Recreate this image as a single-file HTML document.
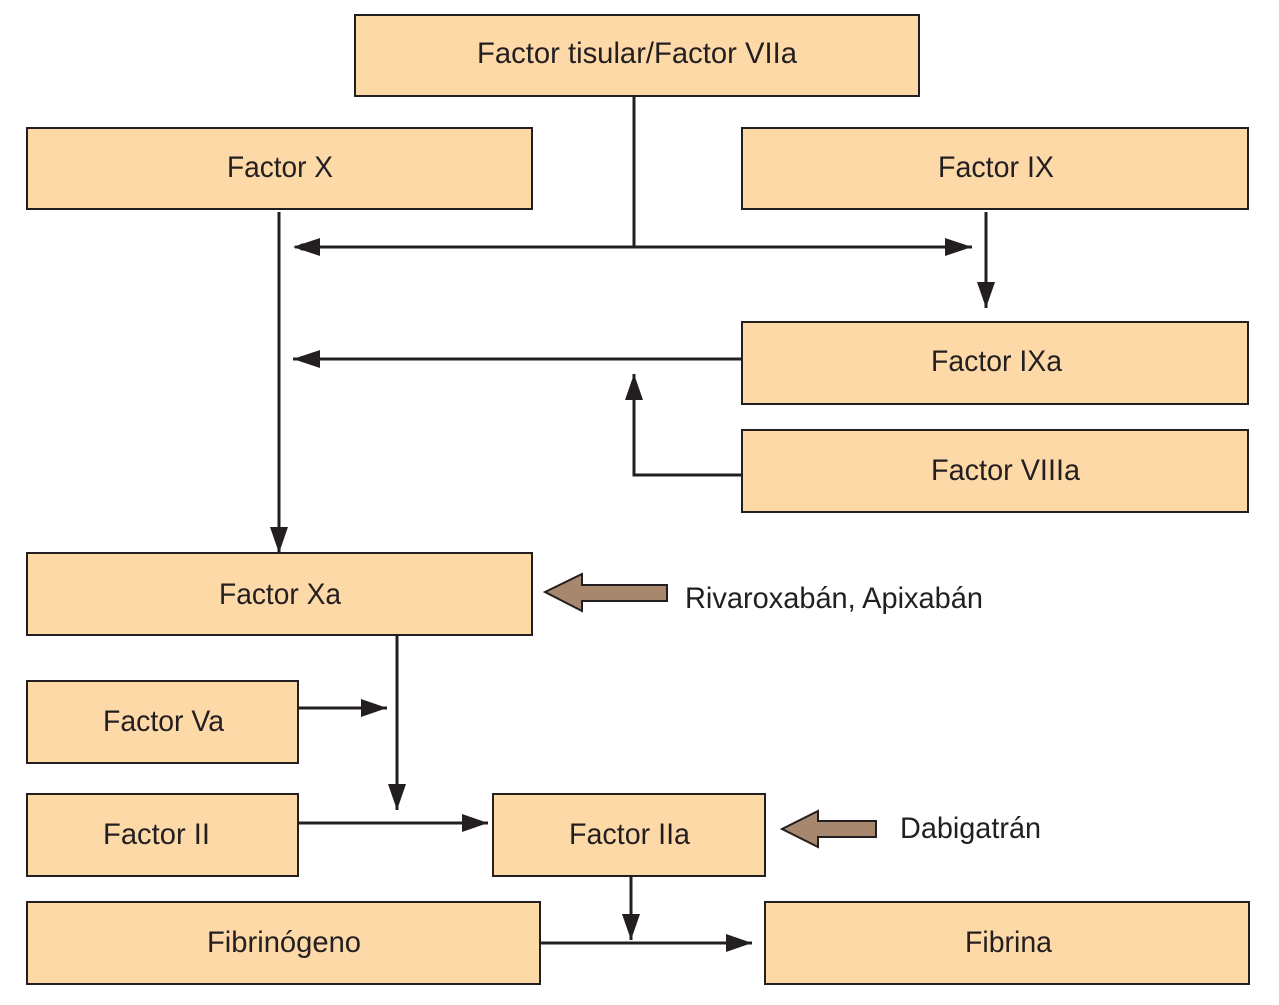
<!DOCTYPE html>
<html><head><meta charset="utf-8"><style>html,body{margin:0;padding:0;background:#fff}</style></head>
<body>
<svg width="1279" height="1000" viewBox="0 0 1279 1000" xmlns="http://www.w3.org/2000/svg">
<defs>
<marker id="a" viewBox="0 0 10 10" refX="10" refY="5" markerWidth="8" markerHeight="8" markerUnits="userSpaceOnUse" orient="auto">
<path d="M0,0 L10,5 L0,10 z" fill="#231f20"/></marker>
</defs>
<g fill="#fdd9a8" stroke="#231f20" stroke-width="2">
<rect x="355" y="15" width="564" height="81"/>
<rect x="27" y="128" width="505" height="81"/>
<rect x="742" y="128" width="506" height="81"/>
<rect x="742" y="322" width="506" height="82"/>
<rect x="742" y="430" width="506" height="82"/>
<rect x="27" y="553" width="505" height="82"/>
<rect x="27" y="681" width="271" height="82"/>
<rect x="27" y="794" width="271" height="82"/>
<rect x="493" y="794" width="272" height="82"/>
<rect x="27" y="902" width="513" height="82"/>
<rect x="765" y="902" width="484" height="82"/>
</g>
<g stroke="#231f20" stroke-width="3" fill="none">
<line x1="634" y1="96" x2="634" y2="247"/>
<line x1="634" y1="247" x2="295" y2="247" style="marker-end:url(#a)"/>
<path d="M634,247 L293,247" stroke="none"/>
<line x1="634" y1="247" x2="972" y2="247"/>
<line x1="279" y1="212" x2="279" y2="553"/>
<line x1="986" y1="212" x2="986" y2="308"/>
<line x1="742" y1="359" x2="293" y2="359"/>
<polyline points="742,475 634,475 634,374"/>
<line x1="397" y1="635" x2="397" y2="810"/>
<line x1="298" y1="708" x2="387" y2="708"/>
<line x1="298" y1="823" x2="488" y2="823"/>
<line x1="631" y1="876" x2="631" y2="940"/>
<line x1="540" y1="943" x2="752" y2="943"/>
</g>
<g fill="#231f20">
<path d="M293,247 L320,238 L320,256 z"/>
<path d="M972,247 L945,238 L945,256 z"/>
<path d="M279,553 L270,527 L288,527 z"/>
<path d="M986,308 L977,282 L995,282 z"/>
<path d="M293,359 L320,350 L320,368 z"/>
<path d="M634,374 L625,400 L643,400 z"/>
<path d="M397,810 L388,784 L406,784 z"/>
<path d="M387,708 L361,699 L361,717 z"/>
<path d="M488,823 L462,814 L462,832 z"/>
<path d="M631,940 L622,914 L640,914 z"/>
<path d="M752,943 L726,934 L726,952 z"/>
</g>
<g fill="#a8876f" stroke="#231f20" stroke-width="2">
<path d="M545,592 L582,574 L582,585 L667,585 L667,601 L582,601 L582,611 z"/>
<path d="M782,829 L818,811 L818,821 L876,821 L876,837 L818,837 L818,847 z"/>
</g>
<g font-family="'Liberation Sans Narrow','Liberation Sans',sans-serif" font-size="30" fill="#231f20" lengthAdjust="spacingAndGlyphs">
<text x="477" y="63" textLength="320" lengthAdjust="spacingAndGlyphs">Factor tisular/Factor VIIa</text>
<text x="227" y="177" textLength="106" lengthAdjust="spacingAndGlyphs">Factor X</text>
<text x="938" y="177" textLength="116" lengthAdjust="spacingAndGlyphs">Factor IX</text>
<text x="931" y="371" textLength="131" lengthAdjust="spacingAndGlyphs">Factor IXa</text>
<text x="931" y="480" textLength="149" lengthAdjust="spacingAndGlyphs">Factor VIIIa</text>
<text x="219" y="604" textLength="122" lengthAdjust="spacingAndGlyphs">Factor Xa</text>
<text x="103" y="731" textLength="121" lengthAdjust="spacingAndGlyphs">Factor Va</text>
<text x="103" y="844" textLength="107" lengthAdjust="spacingAndGlyphs">Factor II</text>
<text x="569" y="844" textLength="121" lengthAdjust="spacingAndGlyphs">Factor IIa</text>
<text x="207" y="952" textLength="154" lengthAdjust="spacingAndGlyphs">Fibrinógeno</text>
<text x="965" y="952" textLength="87" lengthAdjust="spacingAndGlyphs">Fibrina</text>
<text x="685" y="608" textLength="298" lengthAdjust="spacingAndGlyphs">Rivaroxabán, Apixabán</text>
<text x="900" y="838" textLength="141" lengthAdjust="spacingAndGlyphs">Dabigatrán</text>
</g>
</svg>
</body></html>
